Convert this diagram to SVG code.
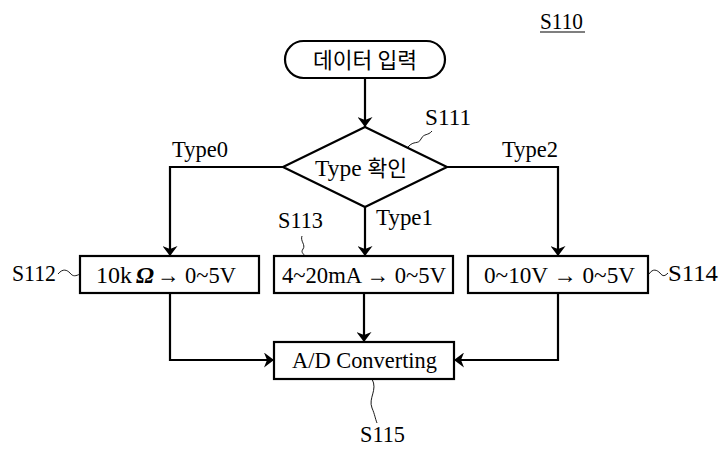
<svg xmlns="http://www.w3.org/2000/svg" width="724" height="450" viewBox="0 0 724 450">
<style>
.b{fill:#fff;stroke:#000;stroke-width:2.2}
.c{fill:none;stroke:#000;stroke-width:2.2}
.l{fill:none;stroke:#000;stroke-width:0.9}
text{font-family:"Liberation Serif","Noto Sans CJK KR",serif;font-size:24px;fill:#000}
.k{font-size:22px}
.m{text-anchor:middle}
</style>
<defs>
<marker id="a" viewBox="0 0 10 15" refX="10" refY="7.5" markerWidth="10" markerHeight="15" markerUnits="userSpaceOnUse" orient="auto">
<path d="M0,0 L10,7.5 L0,15 L3,7.5 Z" fill="#000"/>
</marker>
</defs>
<rect width="724" height="450" fill="#fff"/>
<text x="540" y="29" textLength="43" lengthAdjust="spacingAndGlyphs">S110</text>
<line x1="540" y1="32" x2="585" y2="32" stroke="#000" stroke-width="1.2"/>
<g id="connectors">
<path class="c" d="M365,78 V127" marker-end="url(#a)"/>
<path class="c" d="M283,167 H170 V256" marker-end="url(#a)"/>
<path class="c" d="M365,207 V256" marker-end="url(#a)"/>
<path class="c" d="M447,167 H558 V256" marker-end="url(#a)"/>
<path class="c" d="M170,293 V360 H274" marker-end="url(#a)"/>
<path class="c" d="M364,293 V342" marker-end="url(#a)"/>
<path class="c" d="M558,293 V360 H454" marker-end="url(#a)"/>
</g>
<g id="start">
<rect class="b" x="285" y="41" width="160" height="37" rx="18.5"/>
<text class="m k" x="365" y="68" textLength="104" lengthAdjust="spacingAndGlyphs">데이터 입력</text>
</g>
<g id="s111">
<polygon class="b" points="365,127 447,167 365,207 283,167"/>
<text x="315" y="176" textLength="92" lengthAdjust="spacingAndGlyphs">Type <tspan class="k">확인</tspan></text>
<path class="l" d="M408,147 C414,140 418,145 421,139 C424,133 428,136 432,131"/>
<text x="425" y="125" textLength="46" lengthAdjust="spacingAndGlyphs">S111</text>
</g>
<g id="s112">
<rect class="b" x="80" y="256" width="179" height="37"/>
<text x="96" y="283" font-size="21">10k</text>
<text x="136" y="283" font-style="italic" font-weight="bold" font-size="22">Ω</text>
<text x="157" y="283" textLength="79" lengthAdjust="spacingAndGlyphs">→ 0~5V</text>
<path class="l" d="M58,274 C63,268 67,270 70,273 C73,277 76,276 80,274"/>
<text x="12" y="281" textLength="44" lengthAdjust="spacingAndGlyphs">S112</text>
</g>
<g id="s113">
<rect class="b" x="274" y="256" width="179" height="37"/>
<text x="282" y="283" textLength="164" lengthAdjust="spacingAndGlyphs">4~20mA → 0~5V</text>
<path class="l" d="M302,236 C300,241 306,245 303,249 C300,253 305,254 304,256"/>
<text x="278" y="228" textLength="45" lengthAdjust="spacingAndGlyphs">S113</text>
</g>
<g id="s114">
<rect class="b" x="468" y="256" width="180" height="37"/>
<text x="484" y="283" textLength="151" lengthAdjust="spacingAndGlyphs">0~10V → 0~5V</text>
<path class="l" d="M649,274 C653,268 657,270 660,273 C663,277 665,276 668,273"/>
<text x="668" y="281" textLength="50" lengthAdjust="spacingAndGlyphs">S114</text>
</g>
<g id="s115">
<rect class="b" x="274" y="342" width="180" height="37"/>
<text x="292" y="368" textLength="145" lengthAdjust="spacingAndGlyphs">A/D Converting</text>
<path class="l" d="M372,379 C378,390 368,398 372,408 C375,415 375,418 377,423"/>
<text x="360" y="442" textLength="45" lengthAdjust="spacingAndGlyphs">S115</text>
</g>
<text x="172" y="157" textLength="56" lengthAdjust="spacingAndGlyphs">Type0</text>
<text x="376" y="225" textLength="57" lengthAdjust="spacingAndGlyphs">Type1</text>
<text x="502" y="157" textLength="56" lengthAdjust="spacingAndGlyphs">Type2</text>
</svg>
